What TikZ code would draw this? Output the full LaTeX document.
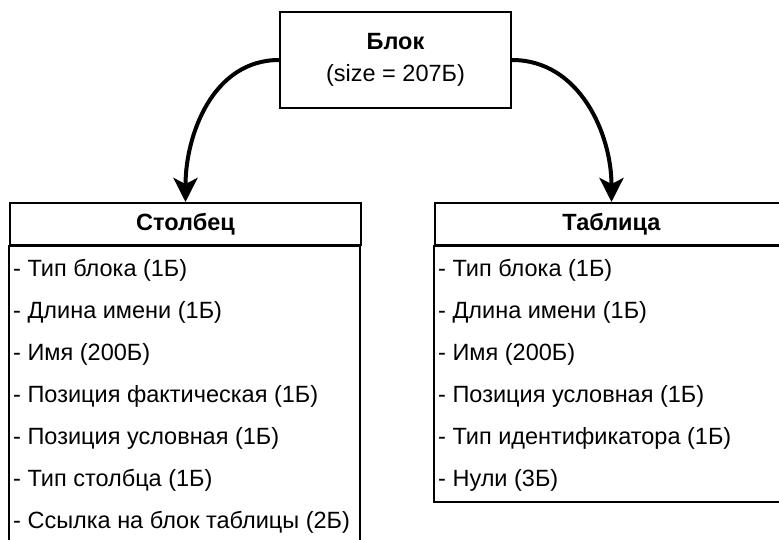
\documentclass[tikz,border=0pt]{standalone}
\usepackage{fontspec}
\setmainfont{Liberation Sans}
\usetikzlibrary{arrows.meta}
\tikzset{>={Stealth[length=24pt, width=24pt, inset=6pt]}}

\begin{document}
\begin{tikzpicture}[x = 1pt, y = 1pt, font = {\fontsize{23.5pt}{32pt}\selectfont},
	box/.style = {draw, line width = 2pt, minimum height = 42pt},
	item/.style = {anchor = west, inner sep = 0pt}]
\clip (0,0) rectangle (779,-539);
\useasboundingbox (0,0) rectangle (779,-539);

\node[draw, line width = 2pt, minimum width = 231pt, minimum height = 96pt, align = center] (BLK) at (395.5, -60) {\textbf{Блок} \\ (size = 207Б)};

\node[box, minimum width = 351pt] (COL) at (185.5, -224) {\textbf{Столбец}};
\node[box, minimum width = 353pt] (TBL) at (611.5, -224) {\textbf{Таблица}};

% bodies of both tables (the left one runs off the page)
\draw[line width = 2pt] (COL.south west) rectangle ++(351, -330);
\draw[line width = 2pt] (TBL.south west) rectangle ++(353, -256);

\foreach \txt [count = \i] in {Тип блока (1Б), Длина имени (1Б), Имя (200Б), Позиция фактическая (1Б), Позиция условная (1Б), Тип столбца (1Б), Ссылка на блок таблицы (2Б)}
	\node[item] (COL-\i) at (13, -228 - 42*\i) {- \txt};

\foreach \txt [count = \i] in {Тип блока (1Б), Длина имени (1Б), Имя (200Б), Позиция условная (1Б), Тип идентификатора (1Б), Нули (3Б)}
	\node[item] (TBL-\i) at (438, -228 - 42*\i) {- \txt};

\draw[->, line width = 4pt] (BLK.west) to[out = 180, in = 90] (COL.north);
\draw[->, line width = 4pt] (BLK.east) to[out = 0, in = 90] (TBL.north);
\end{tikzpicture}
\end{document}
